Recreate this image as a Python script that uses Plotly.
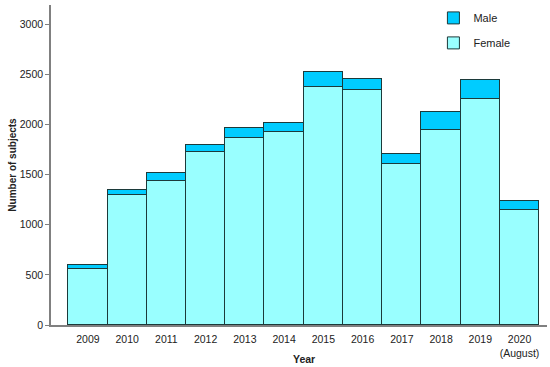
import plotly.graph_objects as go

years = ["2009", "2010", "2011", "2012", "2013", "2014", "2015", "2016",
         "2017", "2018", "2019", "2020<br>(August)"]
female = [560, 1300, 1440, 1722, 1868, 1922, 2370, 2340, 1609, 1948, 2250, 1148]
male = [40, 50, 80, 76, 97, 95, 155, 112, 100, 180, 190, 90]

edge = "#1c3a3a"
font = "Liberation Sans, Arial, sans-serif"
xs = list(range(len(years)))

fig = go.Figure()
fig.add_trace(go.Bar(x=xs, y=female, name="Female",
                     marker=dict(color="#99FFFF", line=dict(color=edge, width=1)),
                     legendgroup="f", legendrank=2))
fig.add_trace(go.Bar(x=xs, y=male, name="Male",
                     marker=dict(color="#00CCFF", line=dict(color=edge, width=1)),
                     legendgroup="m", legendrank=1))

fig.add_annotation(text="<b>Year</b>", x=(xs[0] + xs[-1]) / 2, xref="x",
                   y=-0.105, yref="paper", yanchor="middle", showarrow=False,
                   font=dict(size=10.5, color="#222222"))

fig.update_layout(
    width=550, height=367,
    barmode="stack", bargap=0,
    plot_bgcolor="white", paper_bgcolor="white",
    margin=dict(l=51, r=3, t=5, b=42),
    font=dict(family=font, size=10.5, color="#222222"),
    showlegend=True,
    legend=dict(x=0.771, y=1.005, xanchor="left", yanchor="top",
                traceorder="grouped", tracegroupgap=6,
                bgcolor="rgba(0,0,0,0)", font=dict(size=11)),
    xaxis=dict(
        tickmode="array", tickvals=xs, ticktext=years,
        range=[-0.94, 11.7], showline=True, linecolor="#808080", linewidth=1.5,
        ticks="", showgrid=False, zeroline=False, automargin=False,
        ticklabelstandoff=4,
    ),
    yaxis=dict(
        range=[0, 3190], tickvals=[0, 500, 1000, 1500, 2000, 2500, 3000],
        showline=True, linecolor="#808080", linewidth=1.5,
        ticks="outside", ticklen=4, tickcolor="#808080",
        showgrid=False, zeroline=False, automargin=False,
        title=dict(text="<b>Number of subjects</b>", font=dict(size=10), standoff=1),
    ),
)

fig.write_html("out.html", config={"displayModeBar": False},
               post_script="document.body.style.margin='0';")
